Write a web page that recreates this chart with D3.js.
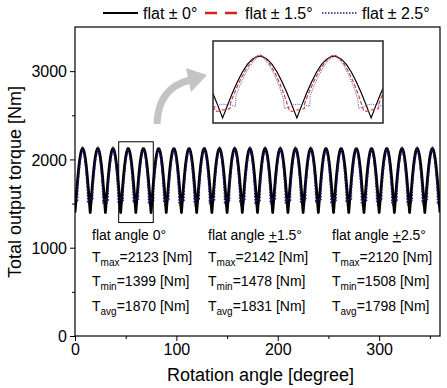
<!DOCTYPE html>
<html><head><meta charset="utf-8">
<script src="https://cdn.jsdelivr.net/npm/d3@7"></script>
<style>
html,body{margin:0;padding:0;background:#fff;}
svg{display:block;font-family:"Liberation Sans",Arial,sans-serif;}
</style></head>
<body>
<svg id="c" width="447" height="388"></svg>
<script>
// ---- data ----
// one period (15 deg) of each torque profile: [offset deg, torque Nm]
const periodDeg = 15;
const periodCount = 24;
const profileFlat0 = [[0,1399],[1,1549],[2,1693],[3,1824],[4,1937],[5,2026],[6,2088],[7,2119],[7.5,2123],[8,2119],[9,2088],[10,2026],[11,1937],[12,1824],[13,1693],[14,1549],[15,1399]];
const profileFlat15 = [[0,1492],[0.8,1500],[1.5,1508],[1.6,1575],[2.5,1705],[3.5,1835],[4.5,1945],[5.5,2035],[6.5,2105],[7.5,2142],[8.5,2105],[9.5,2035],[10.5,1935],[11.5,1810],[12.5,1660],[13.3,1520],[13.5,1480],[14.2,1478],[15,1492]];
const profileFlat25 = [[0,1560],[1.2,1555],[2.6,1535],[2.7,1660],[3.5,1780],[4.5,1905],[5.5,2005],[6.5,2080],[7.5,2120],[8.5,2090],[9.5,2010],[10.5,1900],[11.5,1760],[12.3,1620],[12.5,1508],[13.5,1530],[14.5,1555],[15,1560]];
const seriesNames = ["flat \u00b1 0\u00b0","flat \u00b1 1.5\u00b0","flat \u00b1 2.5\u00b0"];
const xTicks = [0,100,200,300];
const yTicks = [0,1000,2000,3000];
const zoomX = [43.1, 77.2];
const zoomY = [1285, 2200];
const insetY = [1340, 2300];
const statTitles = ["flat angle 0\u00b0","flat angle +1.5\u00b0","flat angle +2.5\u00b0"];
const tMax = [2123,2142,2120];
const tMin = [1399,1478,1508];
const tAvg = [1870,1831,1798];

// tile the read period over the full rotation
function tile(profile){
  const out=[];
  for(let k=0;k<periodCount;k++){
    profile.forEach(([o,v],i)=>{ if(k>0 && i===0) return; out.push([k*periodDeg+o,v]); });
  }
  return out;
}
const series = [tile(profileFlat0), tile(profileFlat15), tile(profileFlat25)];
const styles = [
  {color:"#000", w:2.8, dash:null, wi:1.2},
  {color:"#d62020", w:1.4, dash:"4,3", wi:1.1},
  {color:"#1a1a80", w:1.5, dash:"1.5,1.5", wi:1.0}
];

const svg = d3.select("#c");
const L=75,R=440,T=27,B=336;
const x = d3.scaleLinear().domain([0,360]).range([L,R]);
const y = d3.scaleLinear().domain([0,3500]).range([B,T]);

svg.append("defs").append("clipPath").attr("id","pc").append("rect")
  .attr("x",L).attr("y",T).attr("width",R-L).attr("height",B-T);

// axes
const ax = svg.append("g").attr("transform",`translate(0,${B})`)
  .call(d3.axisBottom(x).tickValues(xTicks).tickSize(5).tickPadding(3).tickFormat(d3.format("d")));
svg.append("g").attr("transform",`translate(0,${B})`)
  .call(d3.axisBottom(x).tickValues([50,150,250,350]).tickSize(3).tickFormat(""));
const ay = svg.append("g").attr("transform",`translate(${L},0)`)
  .call(d3.axisLeft(y).tickValues(yTicks).tickSize(5).tickPadding(3).tickFormat(d3.format("d")));
svg.append("g").attr("transform",`translate(${L},0)`)
  .call(d3.axisLeft(y).tickValues([500,1500,2500]).tickSize(3).tickFormat(""));
svg.selectAll(".domain").remove();
svg.selectAll(".tick line").attr("stroke","#000").attr("stroke-width",1);
svg.selectAll(".tick text").attr("font-size",16).attr("fill","#000")
  .attr("font-family","'Liberation Sans',Arial,sans-serif");
ay.selectAll(".tick text").attr("dy","0.35em");

// lines (red under black, blue dots on top)
const line = d3.line().x(d=>x(d[0])).y(d=>y(d[1]));
const pg = svg.append("g").attr("clip-path","url(#pc)");
[1,0,2].forEach(i=>{
  pg.append("path").datum(series[i]).attr("d",line).attr("fill","none")
    .attr("stroke",styles[i].color).attr("stroke-width",styles[i].w)
    .attr("stroke-dasharray",styles[i].dash).attr("stroke-linejoin","round");
});

// frame
svg.append("rect").attr("x",L).attr("y",T).attr("width",R-L).attr("height",B-T)
  .attr("fill","none").attr("stroke","#000").attr("stroke-width",1.2);

// zoom rectangle
svg.append("rect").attr("x",x(zoomX[0])).attr("y",y(zoomY[1]))
  .attr("width",x(zoomX[1])-x(zoomX[0])).attr("height",y(zoomY[0])-y(zoomY[1]))
  .attr("fill","none").attr("stroke","#000").attr("stroke-width",1);

// arrow
const ag = svg.append("g").attr("fill","none");
ag.append("path").attr("d","M157,124 Q158,88 190,80").attr("stroke","#c4c4c4").attr("stroke-width",7).attr("stroke-linecap","butt");
ag.append("path").attr("d","M186,68 L207,75 L191,92 Z").attr("fill","#c4c4c4");

// inset
const IL=213,IR=383,IT=41,IB=123;
const xi = d3.scaleLinear().domain([43.06,77.4]).range([IL,IR]);
const yi = d3.scaleLinear().domain(insetY).range([IB,IT]);
svg.append("defs").append("clipPath").attr("id","ic").append("rect")
  .attr("x",IL).attr("y",IT).attr("width",IR-IL).attr("height",IB-IT);
svg.append("rect").attr("x",IL).attr("y",IT).attr("width",IR-IL).attr("height",IB-IT).attr("fill","#fff");
const lineI = d3.line().x(d=>xi(d[0])).y(d=>yi(d[1]));
const ig = svg.append("g").attr("clip-path","url(#ic)");
const insetColors = ["#000","#d03030","#6a6ad8"];
series.forEach((s,i)=>{
  ig.append("path").datum(s.filter(d=>d[0]>=38&&d[0]<=82)).attr("d",lineI).attr("fill","none")
    .attr("stroke",insetColors[i]).attr("stroke-width",styles[i].wi)
    .attr("stroke-dasharray",i===1?"4,2":(i===2?"1.2,1":null));
});
svg.append("rect").attr("x",IL).attr("y",IT).attr("width",IR-IL).attr("height",IB-IT)
  .attr("fill","none").attr("stroke","#333").attr("stroke-width",1.6);

// axis titles
svg.append("text").attr("x",(L+R)/2+3).attr("y",381).attr("text-anchor","middle")
  .attr("font-size",18).text("Rotation angle [degree]");
svg.append("text").attr("transform","translate(21,182) rotate(-90)").attr("text-anchor","middle")
  .attr("font-size",18).text("Total output torque [Nm]");

// legend
const lg = svg.append("g");
const legX = [103,205,322], legTX=[143,245,362];
series.forEach((s,i)=>{
  lg.append("line").attr("x1",legX[i]).attr("x2",legX[i]+35).attr("y1",13).attr("y2",13)
    .attr("stroke",styles[i].color).attr("stroke-width",i===0?2:(i===1?2.4:1.6))
    .attr("stroke-dasharray",i===1?"12,8":(i===2?"1.5,1.5":null));
  lg.append("text").attr("x",legTX[i]).attr("y",19).attr("font-size",16).text(seriesNames[i]);
});

// stats text
const colX=[92,208,332];
statTitles.forEach((t,i)=>{
  const tt = svg.append("text").attr("x",colX[i]).attr("y",240).attr("font-size",14);
  if(i===0){ tt.text(t); }
  else {
    tt.append("tspan").text("flat angle ");
    tt.append("tspan").attr("text-decoration","underline").text("+");
    tt.append("tspan").text(t.replace("flat angle +",""));
  }
  [["max",tMax[i],262],["min",tMin[i],286],["avg",tAvg[i],311]].forEach(([sub,v,yy])=>{
    const te = svg.append("text").attr("x",colX[i]).attr("y",yy).attr("font-size",14);
    te.append("tspan").text("T");
    te.append("tspan").attr("font-size",10).attr("dy",4).text(sub);
    te.append("tspan").attr("dy",-4).text("="+v+" [Nm]");
  });
});
</script>
</body></html>
